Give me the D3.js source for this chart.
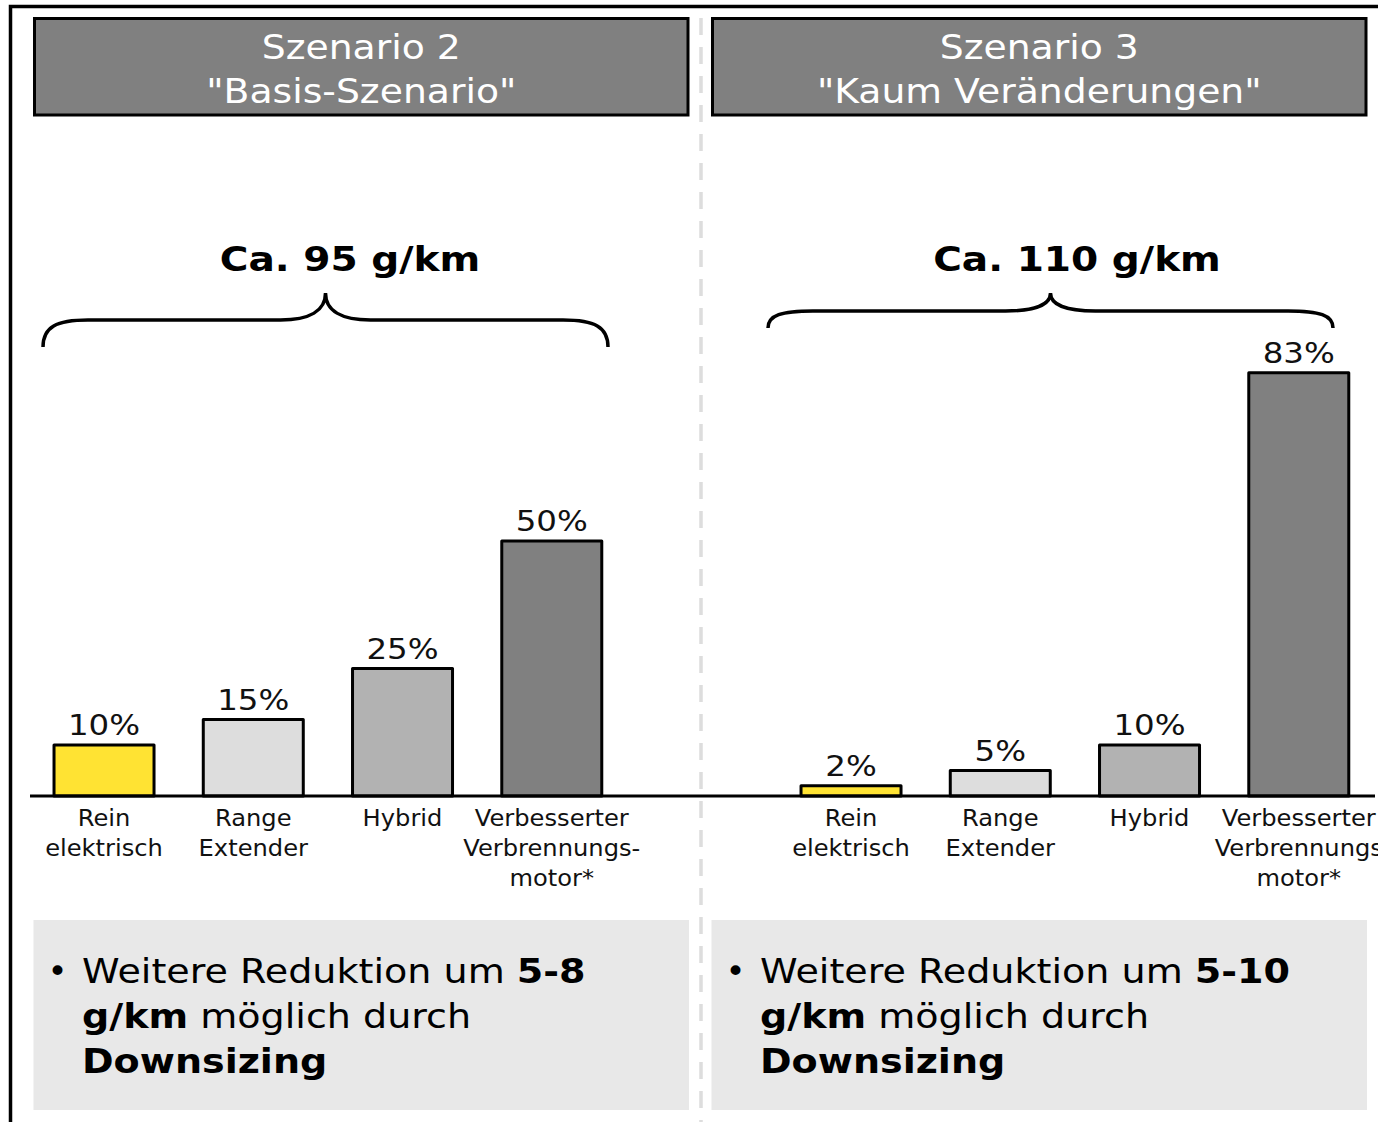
<!DOCTYPE html>
<html>
<head>
<meta charset="utf-8">
<script src="https://cdn.jsdelivr.net/npm/d3@7"></script>
<style>
  body { margin: 0; background: #fff; }
  svg { display: block; font-family: "DejaVu Sans", Verdana, sans-serif; }
</style>
</head>
<body>
<svg width="1378" height="1122"></svg>
<script>
// categories (label lines) and shares per scenario
const categories = ["Rein elektrisch", "Range Extender", "Hybrid", "Verbesserter Verbrennungsmotor*"];
const category_lines = [["Rein", "elektrisch"], ["Range", "Extender"], ["Hybrid"], ["Verbesserter", "Verbrennungs-", "motor*"]];
const category_lines_s3 = [["Rein", "elektrisch"], ["Range", "Extender"], ["Hybrid"], ["Verbesserter", "Verbrennungs", "motor*"]];
const bar_colors = ["#FFE333", "#DDDDDD", "#B2B2B2", "#808080"];

const scenario_titles = [["Szenario 2", "\"Basis-Szenario\""], ["Szenario 3", "\"Kaum Veränderungen\""]];
const scenario_totals = ["Ca. 95 g/km", "Ca. 110 g/km"];
const scenario2 = [10, 15, 25, 50];
const scenario3 = [2, 5, 10, 83];
const reductions = ["5-8", "5-10"];

const svg = d3.select("svg");

const baseline_y = 796;
const y = d3.scaleLinear([0, 100], [baseline_y, baseline_y - 510]);

// DejaVu is narrower than the Verdana of the original, so stretch glyphs a bit
const wide = (x, y, sx) => `translate(${x},${y}) scale(${sx},1)`;

// outer frame (runs off the right/bottom edge)
svg.append("path")
  .attr("d", "M10.5,1122 L10.5,6.5 L1378,6.5")
  .attr("fill", "none")
  .attr("stroke", "#000")
  .attr("stroke-width", 3.5);

// dashed divider
svg.append("line")
  .attr("x1", 701).attr("x2", 701)
  .attr("y1", 18).attr("y2", 1122)
  .attr("stroke", "#DDDDDD")
  .attr("stroke-width", 3.5)
  .attr("stroke-dasharray", "17,12");

const brace = (x0, x1, yh, d_end, d_tip, r) => {
  const xm = (x0 + x1) / 2;
  return `M${x0},${yh + d_end} C${x0},${yh + d_end*0.25} ${x0 + r*0.3},${yh} ${x0 + r},${yh}` +
    ` L${xm - r},${yh} C${xm - r*0.35},${yh} ${xm},${yh - d_tip*0.35} ${xm},${yh - d_tip}` +
    ` C${xm},${yh - d_tip*0.35} ${xm + r*0.35},${yh} ${xm + r},${yh}` +
    ` L${x1 - r},${yh} C${x1 - r*0.3},${yh} ${x1},${yh + d_end*0.25} ${x1},${yh + d_end}`;
};

const panels = [
  { box_x: 34.5, bars_x: 29.4, data: scenario2, lines: category_lines, total_x: 350, brace: [43, 608, 320, 27, 27, 45] },
  { box_x: 712.5, bars_x: 776.4, data: scenario3, lines: category_lines_s3, total_x: 1077, brace: [768, 1333, 311, 17, 18, 45] }
];

panels.forEach((p, pi) => {
  const g = svg.append("g");
  const box_w = 653.5;

  // header
  g.append("rect")
    .attr("x", p.box_x).attr("y", 18.5)
    .attr("width", box_w).attr("height", 96.5)
    .attr("fill", "#808080")
    .attr("stroke", "#000")
    .attr("stroke-width", 3);
  g.append("g")
    .selectAll("text")
    .data(scenario_titles[pi])
    .join("text")
      .attr("transform", (d, i) => wide(p.box_x + box_w / 2, 59 + i * 44, 1.11))
      .attr("text-anchor", "middle")
      .attr("fill", "#fff")
      .attr("font-size", 34)
      .text(d => d);

  // total + brace
  g.append("text")
    .attr("transform", wide(p.total_x, 271, 1.15))
    .attr("text-anchor", "middle")
    .attr("font-size", 34)
    .attr("font-weight", "bold")
    .text(scenario_totals[pi]);
  g.append("path")
    .attr("d", brace(...p.brace))
    .attr("fill", "none")
    .attr("stroke", "#000")
    .attr("stroke-width", 3.5);

  // bars
  const x = d3.scaleBand(categories, [p.bars_x, p.bars_x + 597])
    .paddingInner(0.33)
    .paddingOuter(0.165);

  g.append("g")
    .selectAll("rect")
    .data(p.data)
    .join("rect")
      .attr("x", (d, i) => x(categories[i]))
      .attr("y", d => y(d))
      .attr("width", x.bandwidth())
      .attr("height", d => baseline_y - y(d))
      .attr("fill", (d, i) => bar_colors[i])
      .attr("stroke", "#000")
      .attr("stroke-width", 3)
      .attr("stroke-linejoin", "round");

  g.append("g")
    .selectAll("text")
    .data(p.data)
    .join("text")
      .attr("transform", (d, i) => wide(x(categories[i]) + x.bandwidth() / 2, y(d) - 10, 1.16))
      .attr("text-anchor", "middle")
      .attr("font-size", 28)
      .attr("fill", "#111")
      .text(d => d + "%");

  const labels = g.append("g")
    .selectAll("text")
    .data(p.lines)
    .join("text")
      .attr("transform", (d, i) => wide(x(categories[i]) + x.bandwidth() / 2, 826, 1.075))
      .attr("text-anchor", "middle")
      .attr("font-size", 22.5)
      .attr("fill", "#111");
  labels.selectAll("tspan")
    .data(d => d)
    .join("tspan")
      .attr("x", 0)
      .attr("y", (d, i) => i * 30)
      .text(d => d);

  // bottom note
  g.append("rect")
    .attr("x", p.box_x - 1).attr("y", 920)
    .attr("width", box_w + 2).attr("height", 190)
    .attr("fill", "#E8E8E8");
  g.append("text")
    .attr("x", p.box_x + 13).attr("y", 983)
    .attr("font-size", 34)
    .text("•");
  const note = g.append("text")
    .attr("transform", wide(p.box_x + 47.5, 983, 1.12))
    .attr("font-size", 34)
    .attr("fill", "#000");
  const note_lines = [
    [["Weitere Reduktion um ", false], [reductions[pi], true]],
    [["g/km", true], [" möglich durch", false]],
    [["Downsizing", true]]
  ];
  note_lines.forEach((line, li) => {
    line.forEach(([t, bold], k) => {
      const ts = note.append("tspan")
        .attr("font-weight", bold ? "bold" : "normal")
        .text(t);
      if (k === 0) ts.attr("x", 0).attr("y", li * 45);
    });
  });
});

// baseline
svg.append("line")
  .attr("x1", 30).attr("x2", 1375)
  .attr("y1", baseline_y).attr("y2", baseline_y)
  .attr("stroke", "#000")
  .attr("stroke-width", 3);
</script>
</body>
</html>
